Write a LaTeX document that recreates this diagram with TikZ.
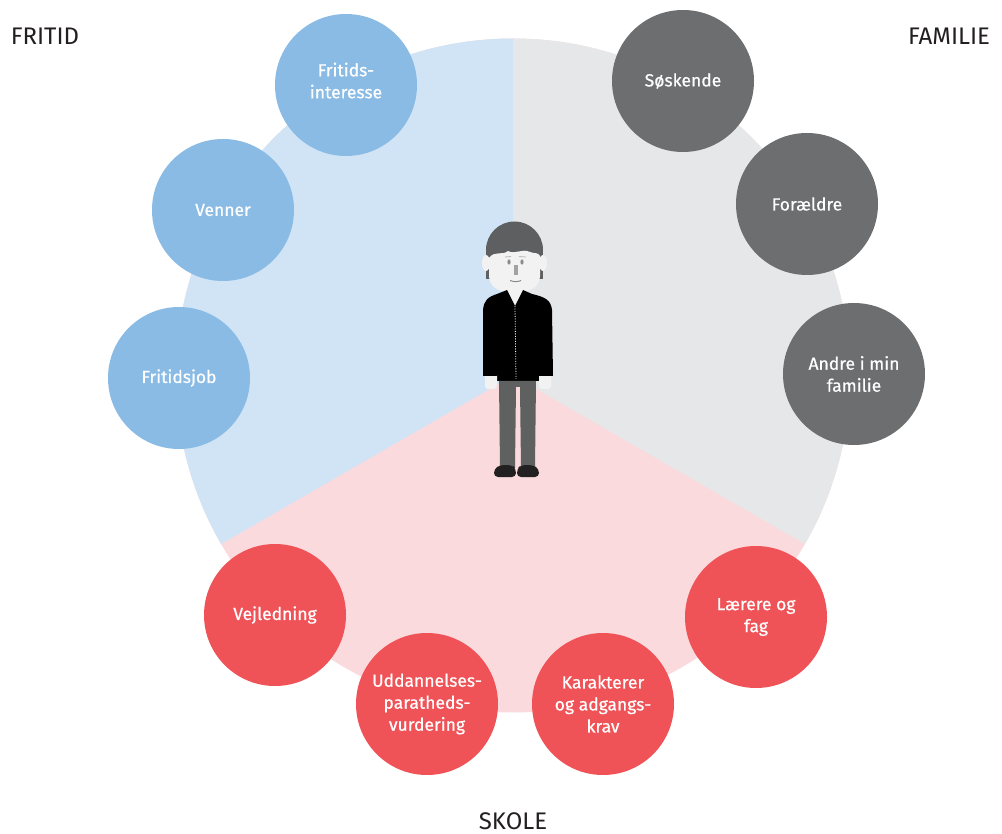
\documentclass[tikz,border=0pt]{standalone}
\usepackage{fontspec}
\setmainfont{Fira Sans}
\newfontfamily\bubfont{Fira Sans}[FakeBold=0.6]
\begin{document}
\begin{tikzpicture}[x=1pt,y=-1pt,
  bub/.style={circle, minimum size=142pt, inner sep=0pt, align=center, text=white,
    font=\bubfont\fontsize{17.5}{22}\selectfont},
  title/.style={text=titlec, font=\fontsize{24}{28}\selectfont, inner sep=0pt},
]
\definecolor{blueS}{HTML}{D0E4F5}
\definecolor{blueC}{HTML}{89BBE4}
\definecolor{greyS}{HTML}{E6E7E8}
\definecolor{greyC}{HTML}{6D6E70}
\definecolor{pinkS}{HTML}{FADADD}
\definecolor{redC}{HTML}{F05357}
\definecolor{titlec}{HTML}{231F20}
\definecolor{hairc}{HTML}{5E5F61}
\definecolor{skinc}{HTML}{F2F2F2}
\definecolor{featc}{HTML}{8A8B8D}
\definecolor{pantsc}{HTML}{5F6160}
\definecolor{shoec}{HTML}{222021}
\useasboundingbox (0,0) rectangle (1002,834);
\fill[white] (0,0) rectangle (1002,834);
% big circle sectors
\coordinate (C) at (513,375.5);
\fill[pinkS] (C) circle[radius=337];
\begin{scope}
  \clip (C) circle[radius=337];
  \fill[blueS] (C) -- (513,-400) -- (-400,-400) -- (-400,902.6) -- cycle;
  \fill[greyS] (C) -- (513,-400) -- (1400,-400) -- (1400,887.6) -- cycle;
\end{scope}
% bubbles
\node[bub, fill=blueC] (fi) at (346,85) {Fritids-\\interesse\rule[-9pt]{0pt}{1pt}};
\node[bub, fill=blueC] (ve) at (223,210) {Venner};
\node[bub, fill=blueC] (fj) at (179,378) {Fritidsjob};
\node[bub, fill=greyC] (so) at (683,81) {Søskende};
\node[bub, fill=greyC] (fo) at (807,204) {Forældre};
\node[bub, fill=greyC] (an) at (854,374) {Andre i min\\familie};
\node[bub, fill=redC] (la) at (756,617) {Lærere og\\fag};
\node[bub, fill=redC] (ka) at (603,704) {Karakterer\\og adgangs-\\krav};
\node[bub, fill=redC] (ud) at (427,704) {Uddannelses-\\paratheds-\\vurdering};
\node[bub, fill=redC] (vj) at (275,615) {Vejledning};
% titles
\node[title] (tfritid) at (45,36) {FRITID};
\node[title] (tfam) at (949,36) {FAMILIE};
\node[title] (tskole) at (513,821) {SKOLE};
% person
\fill[hairc] (514.5,250) circle[radius=28.5];
\fill[hairc] (486,250) rectangle (543,279);
\fill[skinc] (486,263) ellipse[x radius=4, y radius=8];
\fill[skinc] (543,263) ellipse[x radius=4, y radius=8];
\fill[skinc] (489,258) .. controls (495,250) and (502,256) .. (508,251)
  .. controls (515,255) and (522,248) .. (530,252) .. controls (535,254) and (538,252) .. (540,256)
  -- (540,276) .. controls (540,288) and (528,293) .. (514.5,293)
  .. controls (501,293) and (489,288) .. (489,276) -- cycle;
\fill[featc] (509,262) ellipse[x radius=1.6, y radius=2.6];
\fill[featc] (522,262) ellipse[x radius=1.6, y radius=2.6];
\draw[featc!60, line width=0.8pt] (505,257) -- (511,256.5);
\draw[featc!60, line width=0.8pt] (519,256.5) -- (526,257);
\fill[featc!80] (514,265) rectangle (518,275);
\draw[featc, line width=1pt] (510,280.5) .. controls (514,282) and (518,282) .. (521,280.5);
\fill[skinc] (507,288) rectangle (523,304);
\fill[black] (497,294) -- (507,290) -- (515,306) -- (523,290) -- (532,294)
  .. controls (545,297) and (551,300) .. (552,310) -- (553,376) -- (540,376)
  -- (540,381) -- (495,381) -- (495,376) -- (483,376) -- (483,310)
  .. controls (484,300) and (488,297) .. (497,294) -- cycle;
\draw[white, dash pattern=on 1pt off 1.5pt, line width=0.8pt] (515,306) -- (516,379);
\fill[skinc, rounded corners=3pt] (485,372) rectangle (497,389);
\fill[skinc, rounded corners=3pt] (539,372) rectangle (551,389);
\fill[black] (483,360) rectangle (497,376);
\fill[black] (539,360) rectangle (553,376);
\fill[pantsc] (499,381) -- (536,381) -- (535,468) -- (521,468) -- (520,387)
  -- (516,387) -- (515,468) -- (500,468) -- cycle;
\fill[shoec, rounded corners=4pt] (494,477) -- (494,469) -- (500,465) -- (512,465) -- (516,469) -- (516,477) -- cycle;
\fill[shoec, rounded corners=4pt] (517,477) -- (517,469) -- (521,465) -- (533,465) -- (539,469) -- (539,477) -- cycle;
\end{tikzpicture}
\end{document}
